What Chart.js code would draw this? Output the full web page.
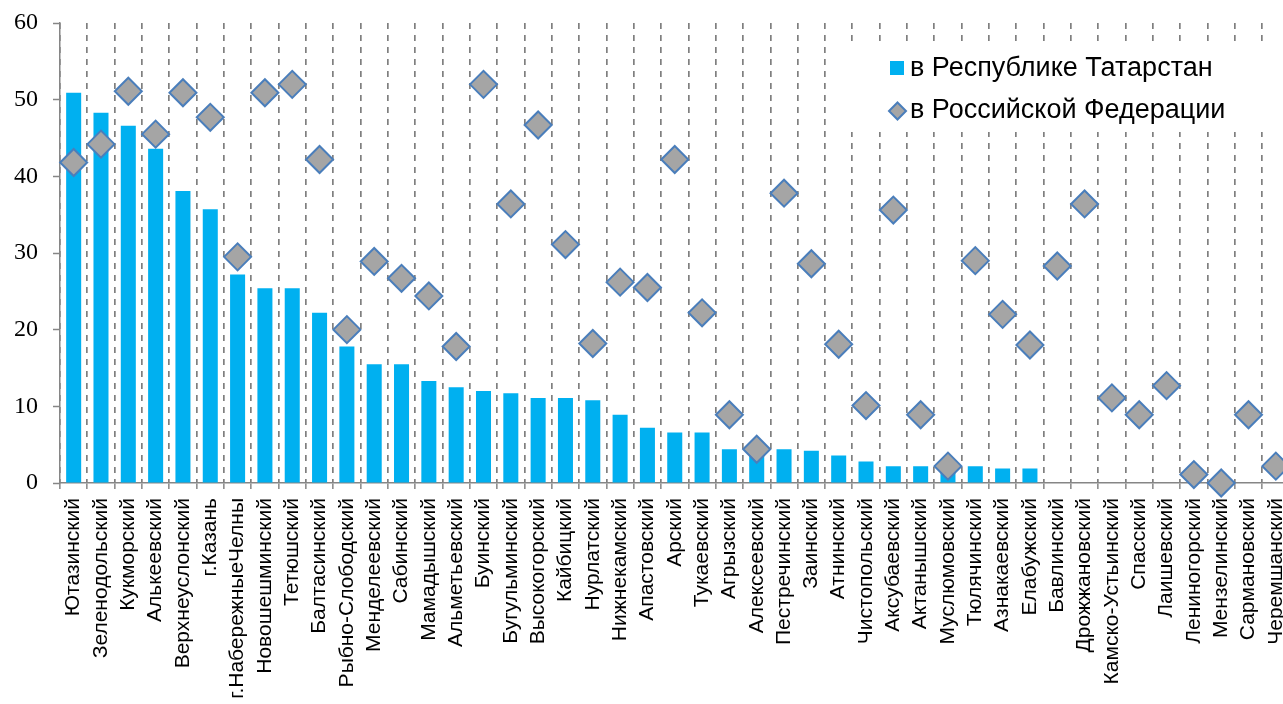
<!DOCTYPE html>
<html>
<head>
<meta charset="utf-8">
<script src="https://cdn.jsdelivr.net/npm/chart.js@4.4.1/dist/chart.umd.min.js"></script>
<style>
    html, body { margin: 0; padding: 0; background: #fff; overflow: hidden; }
    /* a bit wider than the window: the last column is cut off like in the picture */
    #wrap { position: relative; width: 1305px; height: 704px; }
</style>
</head>
<body>
<div id="wrap"><canvas id="grafik"></canvas></div>
<script>
// Districts, in the order of the picture
var rayony = ["Ютазинский","Зеленодольский","Кукморский","Алькеевский","Верхнеуслонский","г.Казань",
    "г.НабережныеЧелны","Новошешминский","Тетюшский","Балтасинский","Рыбно-Слободский","Менделеевский",
    "Сабинский","Мамадышский","Альметьевский","Буинский","Бугульминский","Высокогорский","Кайбицкий",
    "Нурлатский","Нижнекамский","Апастовский","Арский","Тукаевский","Агрызский","Алексеевский",
    "Пестречинский","Заинский","Атнинский","Чистопольский","Аксубаевский","Актанышский","Муслюмовский",
    "Тюлячинский","Азнакаевский","Елабужский","Бавлинский","Дрожжановский","Камско-Устьинский",
    "Спасский","Лаишевский","Лениногорский","Мензелинский","Сармановский","Черемшанский"];

// bars
var tatarstan = [50.9,48.3,46.6,43.6,38.1,35.7,27.2,25.4,25.4,22.2,17.8,15.5,15.5,13.3,12.5,
    12.0,11.7,11.1,11.1,10.8,8.9,7.2,6.6,6.6,4.4,4.4,4.4,4.2,3.6,2.8,2.2,2.2,2.0,2.2,1.9,
    1.9,0,0,0,0,0,0,0,0,0];

// diamonds
var rossiya = [41.8,44.2,51.1,45.5,50.9,47.7,29.5,50.9,52.0,42.2,20.0,28.9,26.7,24.4,17.8,
    52.0,36.4,46.7,31.1,18.2,26.2,25.5,42.2,22.2,8.9,4.4,37.8,28.6,18.1,10.1,35.6,8.9,2.2,
    29.0,22.0,18.0,28.3,36.4,11.1,8.9,12.7,1.1,0,8.9,2.2];

var yTicks = [0,10,20,30,40,50,60];
var legendNames = ["в Республике Татарстан", "в Российской Федерации"];

var blue = '#00B0F0';
var grey = '#A5A5A5';
var edge = '#4A7EBB';
var axisGrey = '#868686';

// Legend sits inside the plot on a white box
var legendBox = {
    id: 'legendBox',
    afterDraw: function(chart) {
        var ctx = chart.ctx;
        ctx.save();
        ctx.fillStyle = '#fff';
        ctx.fillRect(840, 45, 470, 87);

        // square for the bars
        ctx.fillStyle = blue;
        ctx.fillRect(890, 61, 14, 14);

        // diamond for the points
        ctx.beginPath();
        ctx.moveTo(897.5, 102.5);
        ctx.lineTo(906, 111);
        ctx.lineTo(897.5, 119.5);
        ctx.lineTo(889, 111);
        ctx.closePath();
        ctx.fillStyle = grey;
        ctx.fill();
        ctx.lineWidth = 2;
        ctx.strokeStyle = edge;
        ctx.stroke();

        ctx.fillStyle = '#000';
        ctx.font = '27px "Liberation Sans", Arial, sans-serif';
        ctx.textBaseline = 'middle';
        ctx.textAlign = 'left';
        ctx.fillText(legendNames[0], 910, 69);
        ctx.fillText(legendNames[1], 910, 111);
        ctx.restore();
    }
};

var ctx = document.getElementById('grafik').getContext('2d');
var chart = new Chart(ctx, {
    type: 'bar',
    data: {
        labels: rayony,
        datasets: [
            {
                type: 'line',
                label: legendNames[1],
                data: rossiya,
                showLine: false,
                pointStyle: 'rectRot',
                pointRadius: 13.5,
                pointBackgroundColor: grey,
                pointBorderColor: edge,
                pointBorderWidth: 2,
                clip: false,
                order: 1
            },
            {
                label: legendNames[0],
                data: tatarstan,
                backgroundColor: blue,
                barPercentage: 0.55,
                categoryPercentage: 1.0,
                order: 2
            }
        ]
    },
    options: {
        responsive: true,
        maintainAspectRatio: false,
        animation: false,
        layout: { padding: { top: 23, left: 0, right: 0, bottom: 0 } },
        plugins: {
            legend: { display: false },
            tooltip: { enabled: false }
        },
        scales: {
            x: {
                grid: {
                    offset: true,
                    color: '#7F7F7F',
                    lineWidth: 1.7,
                    tickLength: 6,
                    tickColor: axisGrey,
                    tickWidth: 1.5,
                    tickBorderDash: []
                },
                // in v4 border.dash is what dashes the grid lines
                border: { color: axisGrey, width: 1.5, dash: [6, 6] },
                ticks: {
                    autoSkip: false,
                    minRotation: 90,
                    maxRotation: 90,
                    padding: 9,
                    color: '#000',
                    font: { family: '"Liberation Sans", Arial, sans-serif', size: 21 }
                },
                afterFit: function(s) {
                    s.height = 221;
                    s.paddingLeft = 0;
                    s.paddingRight = 0;
                }
            },
            y: {
                min: 0,
                max: 60,
                grid: {
                    drawOnChartArea: false,
                    tickLength: 7,
                    tickColor: axisGrey,
                    tickWidth: 1.5
                },
                border: { color: axisGrey, width: 1.5 },
                ticks: {
                    padding: 15,
                    color: '#000',
                    font: { family: '"Liberation Serif", "Times New Roman", serif', size: 24 }
                },
                afterBuildTicks: function(s) {
                    s.ticks = yTicks.map(function(v) { return { value: v }; });
                },
                afterFit: function(s) {
                    s.width = 60;
                    s.paddingTop = 0;
                    s.paddingBottom = 0;
                }
            }
        }
    },
    plugins: [legendBox]
});
</script>
</body>
</html>
